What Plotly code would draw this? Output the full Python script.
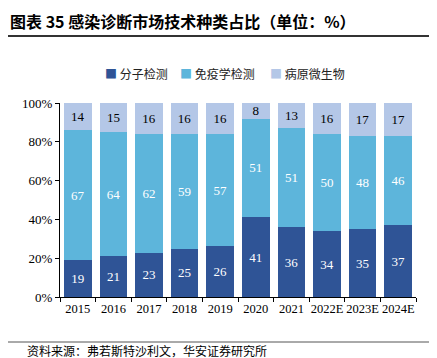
import plotly.graph_objects as go

years = ["2015", "2016", "2017", "2018", "2019", "2020", "2021", "2022E", "2023E", "2024E"]
molecular = [19, 21, 23, 25, 26, 41, 36, 34, 35, 37]
immuno = [67, 64, 62, 59, 57, 51, 51, 50, 48, 46]
microbe = [14, 15, 16, 16, 16, 8, 13, 16, 17, 17]

names = ["分子检测", "免疫学检测", "病原微生物"]
colors = ["#2F5496", "#5DB5DB", "#B4C7E7"]
text_colors = ["white", "white", "black"]

FONT = "Times New Roman, Liberation Serif, Noto Sans CJK SC, serif"
CJK = "Noto Sans CJK SC, sans-serif"

fig = go.Figure()
for vals, name, col, tc in zip([molecular, immuno, microbe], names, colors, text_colors):
    fig.add_trace(go.Bar(
        x=years, y=vals, name=name,
        marker=dict(color=col, line=dict(width=0)),
        text=[str(v) for v in vals],
        textposition="inside", insidetextanchor="middle", textangle=0,
        textfont=dict(family=FONT, size=13, color=tc),
        constraintext="none",
        hoverinfo="skip",
    ))

# page has an 8px body margin; figure is offset by OFF
OFF = 8
W, H = 437 - OFF, 358 - OFF
# plot area in page pixels
PL, PR, PT, PB = 60, 416, 103, 297
L, T = PL - OFF, PT - OFF
R, B = W - (PR - OFF), H - (PB - OFF)
pw, ph = PR - PL, PB - PT

def px(x):
    return (x - PL) / pw

def py(y):
    return (PB - y) / ph

fig.update_layout(
    width=W, height=H,
    margin=dict(l=L, r=R, t=T, b=B, autoexpand=False),
    barmode="stack", barnorm="percent", bargap=0.22,
    plot_bgcolor="white", paper_bgcolor="white",
    showlegend=False,
    xaxis=dict(type="category", showline=True, linecolor="black", linewidth=1,
               ticks="outside", tickson="boundaries", ticklen=4, tickcolor="black",
               tickangle=0, automargin=False,
               tickfont=dict(family=FONT, size=12.5, color="black"), showgrid=False),
    yaxis=dict(range=[0, 100], dtick=20, ticksuffix="%", showline=True, linecolor="black",
               linewidth=1, ticks="outside", ticklen=4, tickcolor="black", automargin=False,
               tickfont=dict(family=FONT, size=13, color="black"), showgrid=False,
               zeroline=False),
    font=dict(family=FONT),
)

# legend drawn as text items
leg_x = [103, 178, 268]
for name, col, x in zip(names, colors, leg_x):
    fig.add_annotation(xref="paper", yref="paper", x=px(x), y=py(73), xanchor="left", yanchor="middle",
                       text=f"<span style='color:{col}'>■</span> {name}", showarrow=False,
                       font=dict(family=CJK, size=12, color="#222"))

fig.add_annotation(xref="paper", yref="paper", x=px(8), y=py(21), xanchor="left", yanchor="middle",
                   text="<b>图表 35 感染诊断市场技术种类占比（单位：%）</b>", showarrow=False,
                   font=dict(family=CJK, size=16, color="black"))
fig.add_shape(type="line", xref="paper", yref="paper", x0=px(OFF), x1=px(437), y0=py(36), y1=py(36),
              line=dict(color="#333", width=2))
fig.add_shape(type="line", xref="paper", yref="paper", x0=px(OFF), x1=px(437), y0=py(342), y1=py(342),
              line=dict(color="#555", width=1))
fig.add_annotation(xref="paper", yref="paper", x=px(25), y=py(350), xanchor="left", yanchor="middle",
                   text="资料来源：弗若斯特沙利文，华安证券研究所", showarrow=False,
                   font=dict(family=CJK, size=12, color="black"))

fig.write_html("out.html")
